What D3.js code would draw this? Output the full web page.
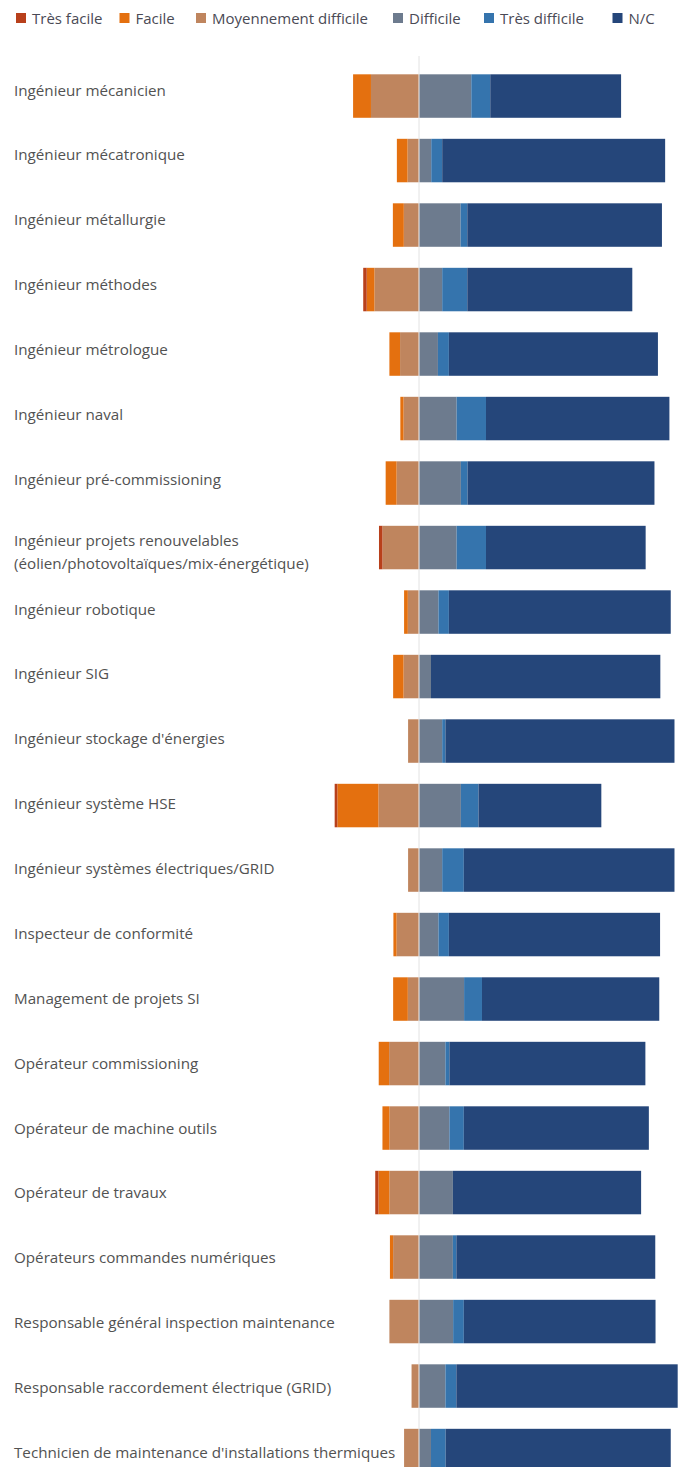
<!DOCTYPE html>
<html lang="fr">
<head>
<meta charset="utf-8">
<script src="https://cdn.jsdelivr.net/npm/d3@7"></script>
<style>
  html, body { margin: 0; padding: 0; background: #fff; }
  svg { display: block; }
  text { font-family: "Open Sans", "Noto Sans", sans-serif; }
</style>
</head>
<body>
<svg id="chart" width="684" height="1467"></svg>
<script>
// Métiers (ordre d'affichage, de haut en bas)
const categories = [
  "Ingénieur mécanicien",
  "Ingénieur mécatronique",
  "Ingénieur métallurgie",
  "Ingénieur méthodes",
  "Ingénieur métrologue",
  "Ingénieur naval",
  "Ingénieur pré-commissioning",
  "Ingénieur projets renouvelables\n(éolien/photovoltaïques/mix-énergétique)",
  "Ingénieur robotique",
  "Ingénieur SIG",
  "Ingénieur stockage d'énergies",
  "Ingénieur système HSE",
  "Ingénieur systèmes électriques/GRID",
  "Inspecteur de conformité",
  "Management de projets SI",
  "Opérateur commissioning",
  "Opérateur de machine outils",
  "Opérateur de travaux",
  "Opérateurs commandes numériques",
  "Responsable général inspection maintenance",
  "Responsable raccordement électrique (GRID)",
  "Technicien de maintenance d'installations thermiques"
];

// Niveaux de difficulté (part des réponses, en %)
const seriesNames = ["Très facile", "Facile", "Moyennement difficile", "Difficile", "Très difficile", "N/C"];

const tresFacile    = [0,   0,   0,   1.3, 0,   0,   0,   1.3, 0,   0,   0,   1.0, 0,   0,   0,   0,   0,   1.2, 0,   0,   0,   0];
const facile        = [6.7, 4.0, 4.1, 2.9, 4.0, 1.2, 4.1, 0,   1.4, 3.9, 0,   15.4,0,   1.2, 5.5, 3.9, 2.6, 4.1, 1.2, 0,   0,   0];
const moyen         = [17.8,4.1, 5.5, 16.5,6.9, 5.6, 8.2, 13.5,4.0, 5.6, 3.9, 15.0,3.9, 8.2, 4.0, 11.0,10.9,10.9,9.5, 10.9,2.6, 5.4];
const difficile     = [19.4,4.4, 15.4,8.5, 6.9, 13.9,15.5,13.9,7.1, 4.3, 8.5, 15.5,8.5, 7.1, 16.7,9.7, 11.2,12.5,12.5,12.6,9.7, 4.3];
const tresDifficile = [7.1, 4.1, 2.5, 9.4, 4.1, 11.0,2.5, 11.0,3.9, 0,   1.2, 6.6, 8.1, 3.9, 6.7, 1.5, 5.4, 0,   1.3, 4.0, 4.1, 5.5];
const nc            = [49.0,83.5,72.9,61.8,78.3,68.7,70.0,59.8,83.1,85.9,85.8,46.0,78.9,79.1,66.4,73.4,69.3,70.5,74.5,71.8,82.9,84.3];

const colors = ["#b8401b", "#e4700f", "#bf855e", "#6d7b8e", "#3574ad", "#25467a"];

// Table construite à partir des séries
const rows = categories.map((c, i) => ({
  cat: c,
  values: [tresFacile[i], facile[i], moyen[i], difficile[i], tresDifficile[i], nc[i]]
}));

const svg = d3.select("#chart");

// Échelles
const x = d3.scaleLinear().domain([-40, 100]).range([311.7, 685.5]);
const y = d3.scaleBand().domain(categories).range([63.8, 1482.8])
  .paddingInner(0.326).paddingOuter(0.163);
const labelY = d3.scalePoint().domain(categories).range([89.5, 1452]);

// Axe central
svg.append("line")
  .attr("x1", x(0) + 0.5).attr("x2", x(0) + 0.5)
  .attr("y1", 56).attr("y2", 1467)
  .attr("stroke", "#e2e2e2").attr("stroke-width", 1);

// Segments : côté gauche (facile) vers la gauche, côté droit (difficile) vers la droite
const segs = [];
rows.forEach(r => {
  let left = 0;
  for (let k = 2; k >= 0; k--) {
    const v = r.values[k];
    segs.push({ cat: r.cat, k, x0: -(left + v), x1: -left, side: "L" });
    left += v;
  }
  let right = 0;
  for (let k = 3; k < 6; k++) {
    const v = r.values[k];
    segs.push({ cat: r.cat, k, x0: right, x1: right + v, side: "R" });
    right += v;
  }
});

svg.append("g").selectAll("rect")
  .data(segs.filter(d => d.x1 - d.x0 > 0))
  .join("rect")
  .attr("x", d => x(d.x0) + (d.side === "R" ? 1 : 0))
  .attr("width", d => x(d.x1) - x(d.x0))
  .attr("y", d => y(d.cat))
  .attr("height", y.bandwidth())
  .attr("fill", d => colors[d.k]);

// Libellés des métiers
const labels = svg.append("g").selectAll("text")
  .data(categories)
  .join("text")
  .attr("x", 14)
  .attr("y", d => labelY(d))
  .attr("fill", "#525252")
  .attr("font-size", 15.2);

labels.each(function(d) {
  const lines = d.split("\n");
  const t = d3.select(this);
  const lh = 23;
  const first = -(lines.length - 1) * lh / 2 + (lines.length > 1 ? 8 : 0);
  lines.forEach((ln, j) => {
    t.append("tspan")
      .attr("x", 14)
      .attr("dy", j === 0 ? first : lh)
      .attr("dominant-baseline", "central")
      .text(ln);
  });
});

// Légende
const legendX = [16, 119.5, 196, 393, 484, 612.5];
const leg = svg.append("g").selectAll("g")
  .data(seriesNames)
  .join("g")
  .attr("transform", (d, i) => `translate(${legendX[i]},0)`);
leg.append("rect")
  .attr("x", 0).attr("y", 13).attr("width", 10).attr("height", 10)
  .attr("fill", (d, i) => colors[i]);
leg.append("text")
  .attr("x", 16).attr("y", 23.5)
  .attr("font-size", 15)
  .attr("fill", "#4a4a55")
  .text(d => d);
</script>
</body>
</html>
